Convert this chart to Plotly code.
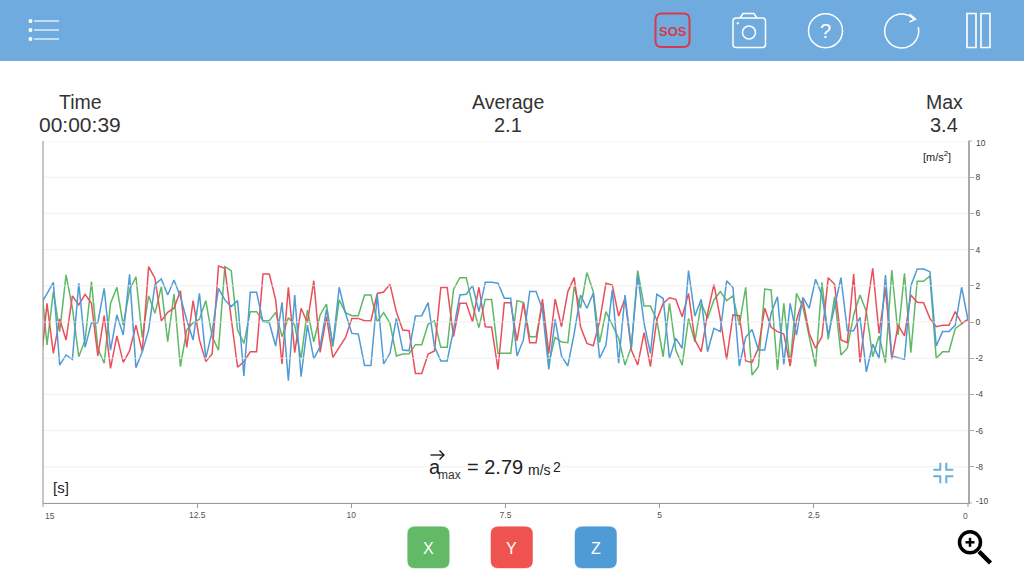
import math

import plotly.graph_objects as go

FONT = "Liberation Sans"

seconds = [
    15.038, 14.935, 14.832, 14.729, 14.626, 14.523, 14.420, 14.317, 14.214, 14.111,
    14.008, 13.905, 13.802, 13.699, 13.596, 13.493, 13.390, 13.287, 13.184, 13.081,
    12.978, 12.875, 12.772, 12.669, 12.566, 12.463, 12.360, 12.257, 12.154, 12.051,
    11.948, 11.845, 11.742, 11.639, 11.536, 11.433, 11.330, 11.227, 11.124, 11.021,
    10.918, 10.815, 10.712, 10.609, 10.506, 10.403, 10.300, 10.197, 10.094, 9.991,
    9.888, 9.785, 9.682, 9.579, 9.476, 9.373, 9.270, 9.167, 9.064, 8.961,
    8.858, 8.755, 8.652, 8.549, 8.446, 8.343, 8.240, 8.137, 8.034, 7.931,
    7.828, 7.725, 7.622, 7.519, 7.416, 7.313, 7.210, 7.107, 7.004, 6.901,
    6.798, 6.695, 6.592, 6.489, 6.386, 6.283, 6.180, 6.077, 5.974, 5.871,
    5.768, 5.665, 5.562, 5.459, 5.356, 5.253, 5.150, 5.047, 4.944, 4.841,
    4.738, 4.635, 4.532, 4.429, 4.326, 4.223, 4.120, 4.017, 3.914, 3.811,
    3.708, 3.605, 3.502, 3.399, 3.296, 3.193, 3.090, 2.987, 2.884, 2.781,
    2.678, 2.575, 2.472, 2.369, 2.266, 2.163, 2.060, 1.957, 1.854, 1.751,
    1.648, 1.545, 1.442, 1.339, 1.236, 1.133, 1.030, 0.927, 0.824, 0.721,
    0.618, 0.515, 0.412, 0.309, 0.206, 0.103, 0.0,
]

accel_x = [
    2.41, -1.27, 1.68, -0.53, 2.60, 0.76, -1.92, -0.99, 2.23, -1.45,
    -2.28, 1.03, 1.92, -0.17, 1.77, 2.50, -0.85, 1.45, 0.48, 1.95,
    -1.09, 1.55, -2.47, -0.44, -0.04, 0.15, 1.18, -0.81, -1.55, 3.06,
    2.84, -0.44, -1.18, 0.57, 0.57, 0.07, 0.07, 0.53, -0.81, 0.24,
    -0.17, -2.01, 0.66, -1.09, 0.39, 0.99, -1.36, 1.22,
    0.52, 0.35, 0.35, 1.49, 1.49, 0.02, 0.52, -0.07, -1.88, -1.77,
    -1.75, -1.25, -1.25, -0.11, 0.07, -1.40, -1.40, 1.80, 2.45, 2.45,
    0.94, -0.31, 1.25, 1.25, -1.73, -1.73, -1.73, 1.18, 1.09, -0.81,
    -0.81, 1.03, -2.28, -0.85, -1.10, -1.14, 1.95, 0.76, 2.73, 1.68,
    -1.14, 0.57, -0.17, -0.90, -2.38, -1.36, 2.84, 0.88, 0.88, 0.11,
    -1.92, 1.03, -1.55,
    -2.38, 0.20, -1.09, 1.03, 0.20, 1.22, 1.68, 1.18, 1.45, -0.17,
    1.92, -2.93, -2.47, 1.82, 1.77, -2.65, 1.03, -2.38, 1.58, 0.85,
    -0.81, -2.47, 2.19, -0.96, 1.40, -1.82, -1.45, 0.39, 1.49, 0.57,
    -1.92, -0.77, -2.25, 2.87, -0.72, 2.69, -1.69, 2.25, 2.25, 2.54,
    -2.01, -1.64, -1.64, -0.35, -0.11, 0.15,
]

accel_y = [
    -2.47, 1.03, -1.73, 0.17, -0.99, 1.44, 0.94, 1.53, 1.03, -1.88,
    0.35, -2.56, -0.77, -2.23, -1.60, -0.17, -1.64, 3.06, 2.41, 0.06,
    0.53, 0.76, 1.73, -1.40, 1.18, -0.99, -2.19, -1.77, 3.09, 2.97,
    0.20, -2.50, -2.19, -1.64, -1.64, 2.65, 2.65, 1.22, -2.32, 1.92,
    -1.69, 0.76, -0.04, 2.28, -1.68, 0.29, -1.95, -1.36,
    -0.85, 0.20, 0.20, 0.07, 0.07, 1.58, 1.66, 2.08, 0.57, -0.44,
    -0.48, -2.84, -2.84, -1.77, -1.60, 1.90, 1.90, -0.81, 1.03, 1.03,
    0.02, 1.92, -0.26, -0.29, -2.62, 1.07, 1.07, -1.03, 1.07, -1.14,
    -1.14, 1.27, -1.73, 1.27, -0.26, 1.68, 2.45, -0.26, -1.18, -1.31,
    0.02, 2.14, 2.04, 0.33, 1.31, -1.55, -2.38, -0.59, -2.47, 0.11,
    1.03, 1.34, 1.25,
    0.29, 1.58, -0.99, -1.64, 0.48, 2.08, 0.20, -2.06, 0.39, 0.35,
    -2.15, -2.23, -1.45, 0.76, -0.29, -0.53, -0.66, -2.43, 0.11, 1.22,
    -0.63, -1.45, -0.81, 2.45, 2.08, -0.99, -1.14, 2.65, -2.23, 0.57,
    2.97, -0.63, 1.86, -2.06, -0.17, -0.77, 1.49, 1.09, 1.07, 0.20,
    -0.26, -0.18, -0.18, 0.57, -0.07, 0.15,
]

accel_z = [
    0.94, 1.53, 2.19, -2.38, -1.82, -2.06, 2.14, -1.40, -0.04, -0.04,
    1.86, -1.55, 0.39, -0.72, 2.63, -2.52, -1.64, -0.44, 2.08, 2.38,
    1.49, 2.32, 1.40, 0.11, -0.99, 1.58, -2.01, -0.53, 1.86, 1.22,
    0.85, 1.18, -2.98, 1.64, 1.64, 0.02, -0.04, -1.33, 1.09, -3.24,
    1.49, -3.02, -0.17, -2.04, -1.36, 0.70, -1.27, 1.92,
    0.48, -0.63, -0.66, -2.41, -2.41, 1.49, -2.32, -1.73, 0.20, -1.55,
    -1.58, 0.33, 0.35, 1.07, -1.36, -2.15, -2.15, -0.44, 1.49, 1.53,
    2.01, 0.57, 2.19, 2.19, 2.14, 1.31, 1.31, -1.88, -0.99, 1.68,
    1.68, 0.70, -2.62, 0.15, -1.88, -2.43, -0.63, 1.49, 0.76, 1.58,
    -2.01, -1.27, 1.77, -2.28, 1.49, -1.45, 2.60, -0.07, -1.73, 1.53,
    1.31, -2.01, -0.90,
    -1.45, 2.84, 0.33, 1.25, -1.64, -0.35, -0.53, 2.28, 1.90, -2.43,
    -0.85, -0.41, -1.55, -1.55, 0.48, 1.40, -2.34, 1.03, -0.72, 1.36,
    0.76, 2.36, 1.49, -0.72, 0.85, 2.45, -0.48, -0.48, 0.26, -2.76,
    -1.22, -2.01, 2.60, -1.88, -1.97, -2.06, 1.99, 2.93, 2.93, 2.78,
    -1.33, -0.53, -0.53, -0.17, 1.92, 0.11,
]

# the end ticks are drawn by hand below, their labels sit inside the plot span
x_ticks = [12.5, 10, 7.5, 5, 2.5]
x_tick_text = ["12.5", "10", "7.5", "5", "2.5"]
y_ticks = [8, 6, 4, 2, 0, -2, -4, -6, -8]
y_tick_text = ["8", "6", "4", "2", "0", "-2", "-4", "-6", "-8"]
grid_levels = [10, 8, 6, 4, 2, 0, -2, -4, -6, -8, -10]

GREEN = "#5fb865"
RED = "#e8505b"
BLUE = "#4f9bd6"
BAR = "#6fabdf"
L, R, T, B = 43, 968, 141, 503


# screen pixels to paper coordinates, for the app chrome around the plot
def px(x):
    return (x - L) / (R - L)


def py(y):
    return (B - y) / (B - T)


def poly(points, close=False):
    parts = [f"{'M' if i == 0 else 'L'}{px(x):.5f},{py(y):.5f}" for i, (x, y) in enumerate(points)]
    return " ".join(parts) + (" Z" if close else "")


def round_rect(x0, y0, x1, y1, r):
    return (
        f"M{px(x0 + r):.5f},{py(y0):.5f} L{px(x1 - r):.5f},{py(y0):.5f} "
        f"Q{px(x1):.5f},{py(y0):.5f} {px(x1):.5f},{py(y0 + r):.5f} "
        f"L{px(x1):.5f},{py(y1 - r):.5f} Q{px(x1):.5f},{py(y1):.5f} {px(x1 - r):.5f},{py(y1):.5f} "
        f"L{px(x0 + r):.5f},{py(y1):.5f} Q{px(x0):.5f},{py(y1):.5f} {px(x0):.5f},{py(y1 - r):.5f} "
        f"L{px(x0):.5f},{py(y0 + r):.5f} Q{px(x0):.5f},{py(y0):.5f} {px(x0 + r):.5f},{py(y0):.5f} Z"
    )


def add_path(fig, path, color="white", width=1.5, fill=None):
    fig.add_shape(
        type="path", xref="paper", yref="paper", path=path, layer="above",
        line={"color": color, "width": width}, fillcolor=fill,
    )


def add_circle(fig, cx, cy, r, color="white", width=1.5, fill=None):
    fig.add_shape(
        type="circle", xref="paper", yref="paper", layer="above",
        x0=px(cx - r), x1=px(cx + r), y0=py(cy + r), y1=py(cy - r),
        line={"color": color, "width": width}, fillcolor=fill,
    )


def add_text(fig, x, y, text, size, color="#222222", anchor="center", family=FONT):
    fig.add_annotation(
        x=px(x), y=py(y), xref="paper", yref="paper", text=text, showarrow=False,
        xanchor=anchor, yanchor="middle", font={"size": size, "color": color, "family": family},
    )


fig = go.Figure()
for name, values, color in [("X", accel_x, GREEN), ("Y", accel_y, RED), ("Z", accel_z, BLUE)]:
    fig.add_trace(
        go.Scatter(x=seconds, y=values, mode="lines", name=name, line={"color": color, "width": 1.5})
    )

fig.update_layout(
    width=1024,
    height=576,
    margin={"l": L, "r": 1024 - R, "t": T, "b": 576 - B, "autoexpand": False},
    paper_bgcolor="white",
    plot_bgcolor="white",
    showlegend=False,
    font={"family": FONT},
)
fig.update_xaxes(
    range=[15, 0], tickvals=x_ticks, ticktext=x_tick_text, showgrid=False, zeroline=False,
    showline=True, linecolor="#9a9a9a", linewidth=1, ticks="outside", ticklen=4,
    tickcolor="#9a9a9a", tickfont={"size": 8.5, "color": "#555555"},
)
fig.update_yaxes(
    range=[-10, 10], side="right", tickvals=y_ticks, ticktext=y_tick_text, showgrid=False,
    zeroline=False, showline=True, linecolor="#aaaaaa", linewidth=1.5, ticks="outside", ticklen=4,
    tickcolor="#aaaaaa", tickfont={"size": 8.5, "color": "#444444"},
)

# the grid sits on top of the lines in the app
for level in grid_levels:
    fig.add_hline(y=level, line_color="rgba(236,236,236,0.8)", line_width=1, layer="above")
fig.add_shape(
    type="line", xref="paper", yref="paper", x0=0, x1=0, y0=0, y1=1, layer="above",
    line={"color": "#8c8c8c", "width": 1},
)

# end ticks and their labels
for tick_y in [T, B]:
    add_path(fig, poly([(R, tick_y), (R + 4, tick_y)]), color="#aaaaaa", width=1)
for tick_x in [L, R]:
    add_path(fig, poly([(tick_x, B), (tick_x, B + 4)]), color="#9a9a9a", width=1)
add_text(fig, 50, 516, "15", 8.5, "#555555")
add_text(fig, 965, 516, "0", 8.5, "#555555")
add_text(fig, 974, 143, "10", 8.5, "#444444", anchor="left")
add_text(fig, 974, 501, "-10", 8.5, "#444444", anchor="left")

# top bar
fig.add_shape(
    type="rect", xref="paper", yref="paper", x0=px(0), x1=px(1024), y0=py(0), y1=py(61),
    fillcolor=BAR, line={"width": 0}, layer="above",
)
for y in [21, 30, 39]:
    add_path(fig, poly([(34, y), (59, y)]), width=1.2)
    add_path(fig, poly([(29, y - 1.5), (32, y - 1.5), (32, y + 1.5), (29, y + 1.5)], True), width=0.5, fill="white")

add_path(fig, round_rect(655.5, 13.5, 689.5, 47, 6), color="#d63a4b", width=2)
add_text(fig, 672.5, 31, "<b>SOS</b>", 13, "#d63a4b")

add_path(fig, round_rect(733, 18, 765.5, 47.5, 3))
add_path(fig, poly([(740, 18), (743, 13.5), (754, 13.5), (757, 18)]))
add_circle(fig, 749, 32.5, 6.5)
add_circle(fig, 737.8, 23.3, 0.8, width=1, fill="white")

add_circle(fig, 825.5, 30.7, 17)
add_text(fig, 825.5, 31, "?", 20, "white")

arc = [
    (901.7 + 17 * math.cos(math.radians(a)), 31 + 17 * math.sin(math.radians(a)))
    for a in range(-45, -381, -8)
]
add_path(fig, poly(arc))
add_path(fig, poly([(909.5, 14), (915.5, 19), (909.5, 22)]))

add_path(fig, poly([(967, 13.5), (976, 13.5), (976, 47.5), (967, 47.5)], True), width=1.6)
add_path(fig, poly([(981, 13.5), (990, 13.5), (990, 47.5), (981, 47.5)], True), width=1.6)

# header read-outs
add_text(fig, 80, 102, "Time", 19.5, "#333333")
add_text(fig, 80, 125, "00:00:39", 21, "#333333")
add_text(fig, 508, 102, "Average", 19.5, "#333333")
add_text(fig, 508, 125, "2.1", 20, "#333333")
add_text(fig, 944, 102, "Max", 19.5, "#333333")
add_text(fig, 944, 125, "3.4", 20, "#333333")

add_text(fig, 937, 156, "[m/s<sup>2</sup>]", 11)
add_text(fig, 61, 487, "[s]", 15)

# a-max read-out
add_text(fig, 427, 467, "a", 20, anchor="left")
add_path(fig, poly([(430.5, 455), (444, 455)]), color="#111111", width=1.3)
add_path(fig, poly([(439.5, 450.5), (444, 455), (439.5, 459.5)]), color="#111111", width=1.3)
add_text(fig, 436, 475, "max", 12, "#333333", anchor="left")
add_text(fig, 465, 467, "= 2.79", 20, anchor="left")
add_text(fig, 526, 470, "m/s", 14, anchor="left")
add_text(fig, 551, 467, "2", 14, anchor="left")

# compress icon
ICON = "#6aaee0"
for sx, sy in [(-1, -1), (1, -1), (-1, 1), (1, 1)]:
    cx, cy = 943.3 + sx * 3, 473 + sy * 3.3
    add_path(fig, poly([(cx + sx * 7, cy), (cx, cy), (cx, cy + sy * 7)]), color=ICON, width=2)

# axis toggles
for x0, label, color in [(407.7, "X", "#62b966"), (491, "Y", "#ef5350"), (575, "Z", "#4f9bd6")]:
    add_path(fig, round_rect(x0, 526.7, x0 + 41.5, 568, 7), color=color, width=0.5, fill=color)
    add_text(fig, x0 + 20.7, 548, label, 16, "white")

# magnifier
add_circle(fig, 970, 542.3, 10.5, color="black", width=3.5)
add_path(fig, poly([(979, 551.5), (990.5, 563)]), color="black", width=4.5)
add_path(fig, poly([(965.5, 542.3), (974.5, 542.3)]), color="black", width=2.5)
add_path(fig, poly([(970, 537.8), (970, 546.8)]), color="black", width=2.5)

fig.write_html("out.html", config={"displayModeBar": False}, post_script="document.body.style.margin='0';")
